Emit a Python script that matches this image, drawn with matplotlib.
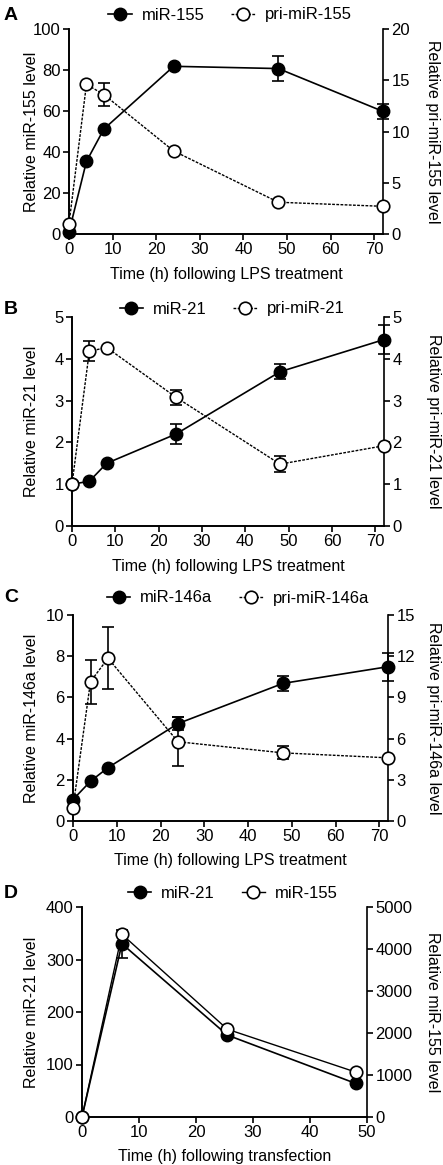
import matplotlib
matplotlib.use("Agg")
import matplotlib.pyplot as plt
from matplotlib.lines import Line2D

plt.rcParams['font.family'] = ['Liberation Sans', 'DejaVu Sans']
plt.rcParams['font.size'] = 12

# panel A
t_lps = [0, 4, 8, 24, 48, 72]
mir155 = [1, 35.4, 51.2, 81.8, 80.7, 59.8]
mir155_err = [0, 0, 0, 0, 6.2, 3.7]
pri155 = [1.0, 14.6, 13.6, 8.1, 3.1, 2.7]
pri155_err = [0, 0, 1.15, 0, 0, 0]

# panel B
mir21 = [1.0, 1.07, 1.5, 2.2, 3.69, 4.46]
mir21_err = [0, 0, 0, 0.24, 0.18, 0.35]
pri21 = [1.0, 4.18, 4.27, 3.08, 1.48, 1.92]
pri21_err = [0, 0.24, 0, 0.18, 0.2, 0]

# panel C
mir146 = [1.04, 1.93, 2.59, 4.73, 6.68, 7.49]
mir146_err = [0, 0, 0, 0.31, 0.36, 0.68]
pri146 = [0.97, 10.15, 11.85, 5.77, 4.96, 4.6]
pri146_err = [0, 1.6, 2.25, 1.8, 0.48, 0]

# panel D
t_tf = [0, 7, 25.5, 48]
d_mir21 = [0, 330, 156, 64]
d_mir21_err = [0, 27, 0, 0]
d_mir155 = [0, 4350, 2090, 1070]

panels = [
    dict(label="A", box=(69, 29, 383, 234), top=15, lx=230, x=t_lps, xlim=72,
         xticks=range(0, 80, 10),
         y1=mir155, e1=mir155_err, y2=pri155, e2=pri155_err,
         lim1=100, ticks1=range(0, 120, 20), lim2=20, ticks2=range(0, 25, 5),
         n1="miR-155", n2="pri-miR-155", dash=True,
         yl1="Relative miR-155 level", yl2="Relative pri-miR-155 level",
         xl="Time (h) following LPS treatment"),
    dict(label="B", box=(72, 317, 384, 526), top=309, lx=232, x=t_lps, xlim=72,
         xticks=range(0, 80, 10),
         y1=mir21, e1=mir21_err, y2=pri21, e2=pri21_err,
         lim1=5, ticks1=range(0, 6), lim2=5, ticks2=range(0, 6),
         n1="miR-21", n2="pri-miR-21", dash=True,
         yl1="Relative miR-21 level", yl2="Relative pri-miR-21 level",
         xl="Time (h) following LPS treatment"),
    dict(label="C", box=(73, 615, 388, 821), top=598, lx=238, x=t_lps, xlim=72,
         xticks=range(0, 80, 10),
         y1=mir146, e1=mir146_err, y2=pri146, e2=pri146_err,
         lim1=10, ticks1=range(0, 12, 2), lim2=15, ticks2=range(0, 18, 3),
         n1="miR-146a", n2="pri-miR-146a", dash=True,
         yl1="Relative miR-146a level", yl2="Relative pri-miR-146a level",
         xl="Time (h) following LPS treatment"),
    dict(label="D", box=(82, 907, 367, 1117), top=893, lx=233, x=t_tf, xlim=50,
         xticks=range(0, 60, 10),
         y1=d_mir21, e1=d_mir21_err, y2=d_mir155, e2=[0, 0, 0, 0],
         lim1=400, ticks1=range(0, 500, 100), lim2=5000, ticks2=range(0, 6000, 1000),
         n1="miR-21", n2="miR-155", dash=False,
         yl1="Relative miR-21 level", yl2="Relative miR-155 level",
         xl="Time (h) following transfection"),
]

W, H = 443, 1165
fig = plt.figure(figsize=(W / 100, H / 100), dpi=100)

for p in panels:
    x0, y0, x1, y1 = p["box"]
    w, h = x1 - x0, y1 - y0
    ax = fig.add_axes([x0 / W, 1 - y1 / H, w / W, h / H])
    ax2 = ax.twinx()
    ls2 = (0, (2, 1)) if p["dash"] else "-"

    ax.errorbar(p["x"], p["y1"], yerr=p["e1"], color="black", lw=1.2,
                marker="o", ms=9, mfc="black", mec="black", capsize=4,
                elinewidth=1.2, capthick=1.2, clip_on=False, zorder=3)
    ax2.errorbar(p["x"], p["y2"], yerr=p["e2"], color="black", lw=1.0, ls=ls2,
                 marker="o", ms=9, mfc="white", mec="black", mew=1.2, capsize=4,
                 elinewidth=1.2, capthick=1.2, clip_on=False, zorder=3)

    ax.set_xlim(0, p["xlim"])
    ax.set_xticks(list(p["xticks"]))
    ax.set_ylim(0, p["lim1"])
    ax.set_yticks(list(p["ticks1"]))
    ax2.set_ylim(0, p["lim2"])
    ax2.set_yticks(list(p["ticks2"]))

    for a in (ax, ax2):
        a.spines["top"].set_visible(False)
        for s in a.spines.values():
            s.set_linewidth(1.2)
        a.tick_params(direction="out", length=4, width=1.2, labelsize=12, pad=2)
    ax.spines["right"].set_visible(False)

    ax.set_xlabel(p["xl"], fontsize=11.5, va="center")
    ax.xaxis.set_label_coords(0.5, -40 / h)
    ax.set_ylabel(p["yl1"], fontsize=11.5, va="center")
    ax.yaxis.set_label_coords((32 - x0) / w, 0.5)
    ax2.set_ylabel(p["yl2"], fontsize=11.5, rotation=270, va="center")
    ax2.yaxis.set_label_coords((433 - x0) / w, 0.5)

    h1 = Line2D([], [], color="black", lw=1.2, marker="o", ms=9, mfc="black")
    h2 = Line2D([], [], color="black", lw=1.0, ls=ls2, marker="o", ms=9,
                mfc="white", mew=1.2)
    fig.legend([h1, h2], [p["n1"], p["n2"]], loc="center",
               bbox_to_anchor=(p["lx"] / W, 1 - p["top"] / H),
               ncol=2, frameon=False, fontsize=12, handlelength=1.4,
               columnspacing=1.6, handletextpad=0.6, borderpad=0)
    fig.text(4 / W, 1 - p["top"] / H, p["label"], fontsize=14, fontweight="bold",
             va="center", ha="left")

fig.savefig("out.png", dpi=100)
